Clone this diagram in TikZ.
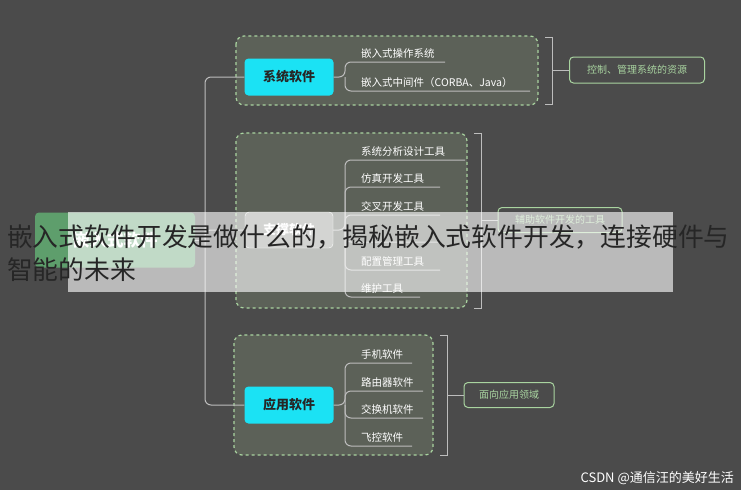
\documentclass[tikz,border=0pt]{standalone}
\usepackage{fontspec}
\setmainfont{Noto Sans CJK SC}
\begin{document}
\begin{tikzpicture}[x=1pt,y=-1pt,
  grp/.style={draw=grn,dashed,line width=1.2pt,fill=grpfill,rounded corners=8pt},
  cat/.style={fill=cyanbox,rounded corners=4pt,text=black!85,font=\bfseries\fontsize{13}{13}\selectfont,minimum width=89pt,minimum height=37pt,inner sep=0pt},
  leaf/.style={anchor=south west,text=white,font=\fontsize{10.5}{11}\selectfont,inner sep=1pt},
  ln/.style={draw=lin,line width=1pt,rounded corners=6pt},
  summ/.style={draw=grn,line width=1pt,rounded corners=4pt,text=grn,font=\fontsize{10}{10}\selectfont,inner sep=0pt},
  brk/.style={draw=lin,line width=1pt}]
\definecolor{bg}{HTML}{4B4B4B}
\definecolor{grpfill}{HTML}{5C6158}
\definecolor{grn}{HTML}{A9D4A0}
\definecolor{cyanbox}{HTML}{1BE2F4}
\definecolor{lin}{HTML}{BDBDBD}
\definecolor{rootg}{HTML}{5E9E6C}
\useasboundingbox (0,0) rectangle (741,490);
\fill[bg] (0,0) rectangle (741,490);
% groups
\draw[grp] (236,36) rectangle (538,105);
\draw[grp] (236,133) rectangle (467,308);
\draw[grp] (234,335) rectangle (433,455);
% trunk
\node[fill=rootg,rounded corners=4pt,minimum width=160pt,minimum height=55pt,text=white,font=\bfseries\fontsize{17}{17}\selectfont] (root) at (115,240) {嵌入式软件};
\node[cat] (sys) at (289,77) {系统软件};
\node[fill=grpfill!70!white,draw=white!70,rounded corners=4pt,minimum width=88pt,minimum height=36pt,text=white,font=\bfseries\fontsize{13}{13}\selectfont] (sup) at (289,230) {支撑软件};
\node[cat] (app) at (289,405) {应用软件};
\coordinate (t) at (205,240);
\draw[ln] (root.east) -- (t);
\draw[ln] (sys.west) -- (205,77) -- (205,405) -- (app.west);
\draw[ln] (t) -- (205,230) -- (sup.west);
% leaves group 1
\draw[ln] (sys.east) -- (345,77) -- (345,62) -- (445,62);
\draw[ln] (345,77) -- (345,91) -- (530,91);
\node[leaf] (l11) at (360,60) {嵌入式操作系统};
\node[leaf] (l12) at (360,89) {嵌入式中间件（CORBA、Java）};
% leaves group 2
\draw[ln] (sup.east) -- (345,230) -- (345,160) -- (465,160);
\foreach \y/\e in {187/440,215/440,242/440,270/440}{\draw[ln] (345,230) -- (345,\y) -- (\e,\y);}
\draw[ln] (345,230) -- (345,297) -- (420,297);
\node[leaf] (l21) at (360,158) {系统分析设计工具};
\node[leaf] (l22) at (360,185) {仿真开发工具};
\node[leaf] (l23) at (360,213) {交叉开发工具};
\node[leaf] (l25) at (360,268) {配置管理工具};
\node[leaf] (l26) at (360,295) {维护工具};
% leaves group 3
\draw[ln] (app.east) -- (345,405) -- (345,363) -- (412,363);
\draw[ln] (345,405) -- (345,391) -- (423,391);
\draw[ln] (345,405) -- (345,418) -- (423,418);
\draw[ln] (345,405) -- (345,446) -- (412,446);
\node[leaf] (l31) at (360,361) {手机软件};
\node[leaf] (l32) at (360,389) {路由器软件};
\node[leaf] (l33) at (360,416) {交换机软件};
\node[leaf] (l34) at (360,444) {飞控软件};
% brackets and summaries
\node[summ,minimum width=135pt,minimum height=26pt] (s1) at (637,70) {控制、管理系统的资源};
\node[summ,minimum width=124pt,minimum height=25pt] (s2) at (560,220) {辅助软件开发的工具};
\node[summ,minimum width=90pt,minimum height=25pt] (s3) at (509,395) {面向应用领域};
\draw[brk] (545,37) -- (552,37) -- (552,104) -- (545,104);
\draw[brk] (552,70) -- (s1.west);
\draw[brk] (474,133) -- (481,133) -- (481,308) -- (474,308);
\draw[brk] (481,220) -- (s2.west);
\draw[brk] (440,335) -- (447,335) -- (447,455) -- (440,455);
\draw[brk] (447,395) -- (s3.west);
% overlay banner
\fill[white,opacity=0.62] (68,212) rectangle (673,292);
\node[anchor=west,text=black!85,font=\fontsize{25.8}{26}\selectfont,inner sep=0pt] (b1) at (7,237) {嵌入式软件开发是做什么的，揭秘嵌入式软件开发，连接硬件与};
\node[anchor=west,text=black!85,font=\fontsize{25.8}{26}\selectfont,inner sep=0pt] (b2) at (7,270) {智能的未来};
\node[anchor=east,text=white!85,font=\fontsize{13}{13}\selectfont,inner sep=0pt] (wm) at (734,478) {CSDN @通信汪的美好生活};
\end{tikzpicture}
\end{document}
